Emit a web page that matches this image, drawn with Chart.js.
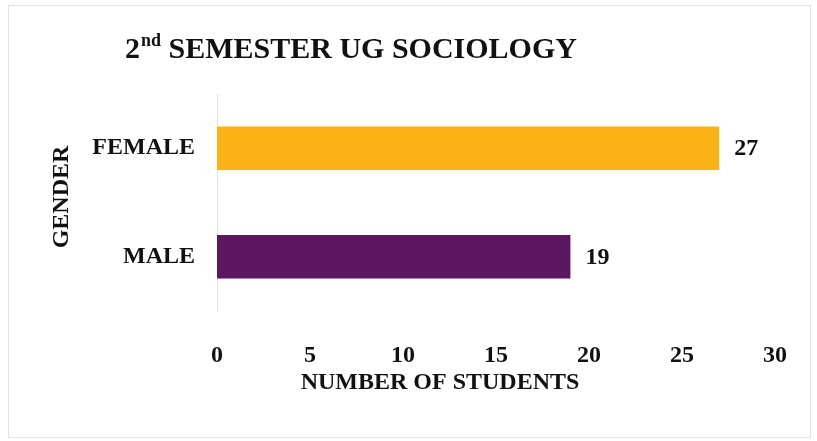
<!DOCTYPE html>
<html>
<head>
<meta charset="utf-8">
<script src="https://cdn.jsdelivr.net/npm/chart.js@4"></script>
<style>
  html, body { margin: 0; padding: 0; background: #fff; }
  #wrap { width: 817px; height: 441px; }
</style>
</head>
<body>
<div id="wrap"><canvas id="myChart" width="817" height="441"></canvas></div>
<script>
const categories = ['FEMALE', 'MALE'];
const studentCounts = [27, 19];
const barColors = ['#FBB217', '#5C1760'];
const xTicks = [0, 5, 10, 15, 20, 25, 30];

const titleMain = 'SEMESTER UG SOCIOLOGY';
const xTitle = 'NUMBER OF STUDENTS';
const yTitle = 'GENDER';

const serif = '"Liberation Serif", "Times New Roman", serif';

// frame, title, axis titles and value labels
const decorations = {
    id: 'decorations',
    beforeDraw(chart){
        const ctx = chart.ctx;
        ctx.save();
        ctx.fillStyle = '#fff';
        ctx.fillRect(0, 0, chart.width, chart.height);
        ctx.strokeStyle = '#e2e2e2';
        ctx.lineWidth = 1;
        ctx.strokeRect(8.5, 5.5, 802, 432);
        ctx.restore();
    },
    afterDraw(chart){
        const ctx = chart.ctx;
        ctx.save();
        ctx.fillStyle = '#111';
        ctx.textBaseline = 'alphabetic';

        // title with superscript
        let x = 125;
        ctx.font = 'bold 30px ' + serif;
        ctx.fillText('2', x, 58);
        x += ctx.measureText('2').width + 1;
        ctx.font = 'bold 18px ' + serif;
        ctx.fillText('nd', x, 46);
        x += ctx.measureText('nd').width;
        ctx.font = 'bold 30px ' + serif;
        ctx.fillText(' ' + titleMain, x, 58);

        ctx.font = 'bold 24px ' + serif;
        ctx.textAlign = 'center';
        ctx.textBaseline = 'middle';
        ctx.fillText(xTitle, 440, 383);

        ctx.save();
        ctx.translate(62, 197);
        ctx.rotate(-Math.PI / 2);
        ctx.fillText(yTitle, 0, 0);
        ctx.restore();

        // value labels
        const meta = chart.getDatasetMeta(0);
        ctx.textAlign = 'left';
        meta.data.forEach((bar, i) => {
            ctx.fillText(String(studentCounts[i]), bar.x + 15, bar.y + 1);
        });
        ctx.restore();
    }
};

const ctx = document.getElementById('myChart');
new Chart(ctx, {
    type: 'bar',
    data: {
        labels: categories,
        datasets: [{
            data: studentCounts,
            backgroundColor: barColors,
            borderWidth: 0,
            barPercentage: 0.4,
            categoryPercentage: 1.0
        }]
    },
    options: {
        indexAxis: 'y',
        responsive: false,
        animation: false,
        layout: { padding: { top: 94, right: 41, left: 0, bottom: 0 } },
        plugins: {
            legend: { display: false },
            tooltip: { enabled: false }
        },
        scales: {
            x: {
                min: 0,
                max: 30,
                afterBuildTicks(scale){
                    scale.ticks = xTicks.map(v => ({ value: v }));
                },
                afterFit(scale){ scale.height = 130; },
                grid: { display: false, drawTicks: false },
                border: { display: false },
                ticks: {
                    padding: 30,
                    color: '#111',
                    font: { family: serif, size: 24, weight: 'bold' }
                }
            },
            y: {
                afterFit(scale){ scale.width = 217; },
                grid: { display: true, color: 'rgba(0,0,0,0)', drawTicks: false },
                border: { display: true, color: '#dedede', dash: [1, 3], width: 1 },
                ticks: {
                    padding: 22,
                    color: '#111',
                    font: { family: serif, size: 24, weight: 'bold' }
                }
            }
        }
    },
    plugins: [decorations]
});
</script>
</body>
</html>
